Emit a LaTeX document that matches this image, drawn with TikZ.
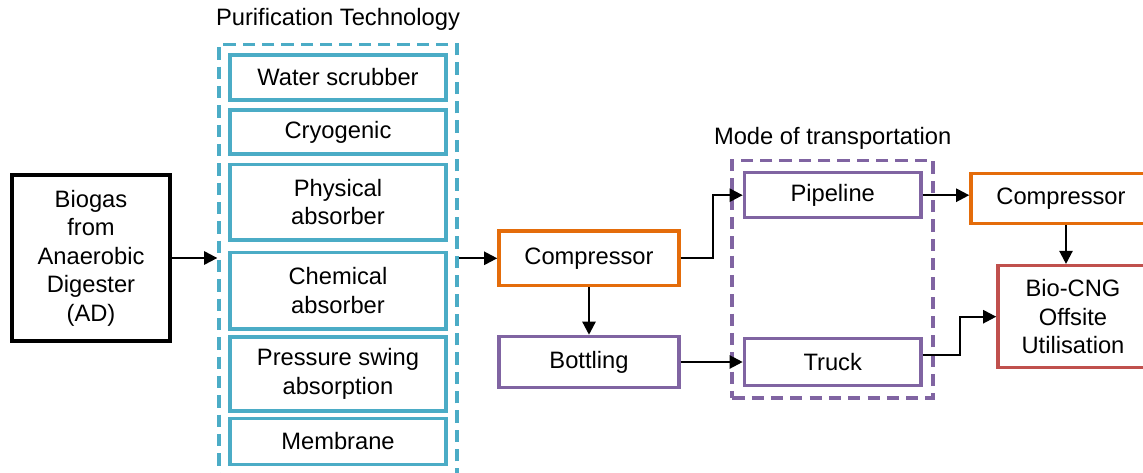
\documentclass[tikz,border=0pt]{standalone}
\usepackage{fontspec}
\setmainfont{Liberation Sans}
\usepackage{tikz}
\usetikzlibrary{positioning}
\usetikzlibrary{fit}
\usetikzlibrary{arrows.meta}
\definecolor{purifblue}{HTML}{4BACC6}
\definecolor{modepurple}{HTML}{8064A2}
\definecolor{comporange}{HTML}{E46C0A}
\definecolor{cngred}{HTML}{C0504D}
\tikzset{
	unit/.style={draw, line width=2pt, align=center, inner sep=2pt, text=black, font=\fontsize{13.5}{16.2}\selectfont},
	techbox/.style={unit, draw=purifblue, minimum width=4.32cm},
	groupbox/.style={draw, line width=2.2pt, dash pattern=on 7pt off 4pt},
	grouptitle/.style={inner sep=0pt, font=\fontsize{13.5}{16.2}\selectfont},
	flow/.style={line width=1.3pt, -{Triangle[length=7.5pt,width=7.5pt]}}
}

\begin{document}
\begin{tikzpicture}[x=0.02cm, y=-0.02cm]
		\useasboundingbox (0,0) rectangle (1143,473);
		\node at (91,258) [unit, minimum width=3.16cm, minimum height=3.32cm] (biogas) {Biogas\\from\\Anaerobic\\Digester\\(AD)};
		\foreach \y/\h/\name/\txt in {77.5/0.89/water/{Water scrubber}, 132/0.89/cryo/Cryogenic, 202/1.51/phys/{Physical\\absorber}, 290.7/1.53/chem/{Chemical\\absorber}, 374/1.48/psa/{Pressure swing\\absorption}, 441.3/0.92/membrane/Membrane} {
			\node at (338,\y) [techbox, minimum height=\h cm] (\name) {\txt};
		}
		\node [groupbox, draw=purifblue, fit=(water)(membrane), inner sep=0.18cm] (purif) {};
		\node [grouptitle, above=0.23cm of purif] (puriftitle) {Purification Technology};

		\node at (589,258.3) [unit, draw=comporange, minimum width=3.6cm, minimum height=1.09cm] (comp) {Compressor};
		\node at (589,362) [unit, draw=modepurple, minimum width=3.6cm, minimum height=1.02cm] (bottling) {Bottling};
		\node at (832.7,195.2) [unit, draw=modepurple, minimum width=3.53cm, minimum height=0.9cm] (pipeline) {Pipeline};
		\node at (832.7,362) [unit, draw=modepurple, minimum width=3.53cm, minimum height=0.94cm] (truck) {Truck};
		\node [groupbox, draw=modepurple, fit=(pipeline)(truck), inner sep=0.21cm] (mode) {};
		\node [grouptitle, above=0.18cm of mode] (modetitle) {Mode of transportation};
		\node at (1061,198.3) [unit, draw=comporange, minimum width=3.6cm, minimum height=1.0cm] (comptwo) {Compressor};
		\node at (1073,316.7) [unit, draw=cngred, minimum width=3.0cm, minimum height=2.04cm] (cng) {Bio-CNG\\Offsite\\Utilisation};

		\draw [flow] (biogas.east) -- (biogas.east -| purif.west);
		\draw [flow] (comp.west -| purif.east) -- (comp.west);
		\draw [flow] (comp.east) -- ++(32,0) |- (pipeline.west);
		\draw [flow] (comp.south) -- (bottling.north);
		\draw [flow] (bottling.east) -- (bottling.east -| truck.west);
		\draw [flow] (pipeline.east) -- (pipeline.east -| comptwo.west);
		\draw [flow] ([xshift=0.1cm]comptwo.south) -- ([xshift=0.1cm]comptwo.south |- cng.north);
		\draw [flow] ([yshift=0.14cm]truck.east) -- ++(37,0) |- (cng.west);
		\end{tikzpicture}
\end{document}
